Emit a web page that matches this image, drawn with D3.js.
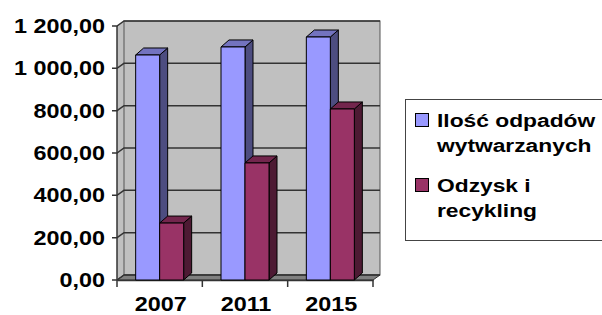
<!DOCTYPE html>
<html>
<head>
<meta charset="utf-8">
<script src="https://cdn.jsdelivr.net/npm/d3@7"></script>
<style>
  body { margin:0; background:#fff; }
  text { font-family:"Liberation Sans", Arial, sans-serif; font-weight:bold; fill:#000; }
</style>
</head>
<body>
<script>
var years = ['2007', '2011', '2015'];
var wasteProduced = [1063, 1101, 1148];
var recovered = [269, 553, 808];
var seriesNames = [['Ilość odpadów', 'wytwarzanych'], ['Odzysk i', 'recykling']];
var yTicks = [0, 200, 400, 600, 800, 1000, 1200];

var W = 602, H = 315;
// note: "top" is taken by window.top, so plot edges get a prefix
var pLeft = 117, pRight = 373, pBottom = 280, pTop = 26;
var dx = 7, dy = -5;      // depth of back wall
var bx = 8, by = -7;      // depth of a bar
var barW = 24;
var stretch = 1.2;        // glyphs in the original are drawn wide

var fronts = ['#9999ff', '#993366'];
var sides = ['#4d4d80', '#4d1a33'];
var tops = ['#7373bf', '#73264d'];

var svg = d3.select('body').append('svg')
  .attr('width', W).attr('height', H);

var x = d3.scaleBand().domain(years).range([pLeft, pRight]).padding(0);
var y = d3.scaleLinear().domain([0, 1200]).range([pBottom, pTop]);

function pts(a) { return a.map(function (p) { return p.join(','); }).join(' '); }

function fmt(v) {
  return d3.format(',.2f')(v).replace(/,/g, ' ').replace('.', ',');
}

// walls
svg.append('polygon')
  .attr('points', pts([[pLeft, pTop], [pLeft+dx, pTop+dy], [pLeft+dx, pBottom+dy], [pLeft, pBottom]]))
  .attr('fill', '#c0c0c0');
svg.append('rect')
  .attr('x', pLeft+dx).attr('y', pTop+dy)
  .attr('width', pRight-pLeft).attr('height', pBottom-pTop)
  .attr('fill', '#c0c0c0').attr('stroke', '#555').attr('stroke-width', 1);
svg.append('polygon')
  .attr('points', pts([[pLeft, pBottom], [pLeft+dx, pBottom+dy], [pRight+dx, pBottom+dy], [pRight, pBottom]]))
  .attr('fill', '#808080').attr('stroke', '#333').attr('stroke-width', 1);

// gridlines + y axis
var grid = svg.append('g');
yTicks.forEach(function (t) {
  var yy = y(t);
  grid.append('polyline')
    .attr('points', pts([[pLeft-5, yy], [pLeft, yy], [pLeft+dx, yy+dy], [pRight+dx, yy+dy]]))
    .attr('fill', 'none').attr('stroke', '#333').attr('stroke-width', 1.5);
  grid.append('text')
    .attr('transform', 'translate(105,' + (yy+7) + ') scale(' + stretch + ',1)')
    .attr('text-anchor', 'end')
    .attr('font-size', '19.5px')
    .text(fmt(t));
});
svg.append('line')
  .attr('x1', pLeft).attr('x2', pLeft).attr('y1', pTop).attr('y2', pBottom)
  .attr('stroke', '#333').attr('stroke-width', 1.5);

// x axis
var xAxis = svg.append('g').attr('transform', 'translate(0,' + pBottom + ')')
  .call(d3.axisBottom(x).tickSize(0).tickFormat(''));
xAxis.select('.domain').attr('stroke', '#333').attr('stroke-width', 1.5);
[pLeft].concat(years.map(function (d) { return x(d) + x.bandwidth(); })).forEach(function (tx) {
  svg.append('line').attr('x1', tx).attr('x2', tx).attr('y1', pBottom).attr('y2', pBottom+7)
    .attr('stroke', '#333').attr('stroke-width', 1.5);
});
years.forEach(function (d) {
  svg.append('text')
    .attr('transform', 'translate(' + (x(d) + x.bandwidth()/2 + 1) + ',311) scale(' + stretch + ',1)')
    .attr('text-anchor', 'middle')
    .attr('font-size', '19.5px')
    .text(d);
});

// 3d bars
function bar(x0, v, s) {
  var y0 = y(v), x1 = x0 + barW;
  var g = svg.append('g').attr('stroke', '#000').attr('stroke-width', 1).attr('stroke-linejoin', 'round');
  g.append('polygon')
    .attr('points', pts([[x1, y0], [x1+bx, y0+by], [x1+bx, pBottom+by], [x1, pBottom]]))
    .attr('fill', sides[s]);
  g.append('polygon')
    .attr('points', pts([[x0, y0], [x0+bx, y0+by], [x1+bx, y0+by], [x1, y0]]))
    .attr('fill', tops[s]);
  g.append('rect')
    .attr('x', x0).attr('y', y0).attr('width', barW).attr('height', pBottom - y0)
    .attr('fill', fronts[s]);
}
years.forEach(function (d, i) {
  var c = x(d) + x.bandwidth()/2;
  bar(c - barW, wasteProduced[i], 0);
  bar(c, recovered[i], 1);
});

// legend
var lg = svg.append('g');
lg.append('rect')
  .attr('x', 405.5).attr('y', 99.5).attr('width', 200).attr('height', 141)
  .attr('fill', '#fff').attr('stroke', '#444').attr('stroke-width', 1);
var legY = [113, 178];
seriesNames.forEach(function (lines, i) {
  lg.append('rect')
    .attr('x', 415.5).attr('y', legY[i] + 0.5).attr('width', 13).attr('height', 13)
    .attr('fill', fronts[i]).attr('stroke', '#000').attr('stroke-width', 1);
  lines.forEach(function (t, k) {
    lg.append('text')
      .attr('transform', 'translate(437,' + (legY[i] + 14 + k*25) + ') scale(' + stretch + ',1)')
      .attr('font-size', '19px')
      .text(t);
  });
});
</script>
</body>
</html>
